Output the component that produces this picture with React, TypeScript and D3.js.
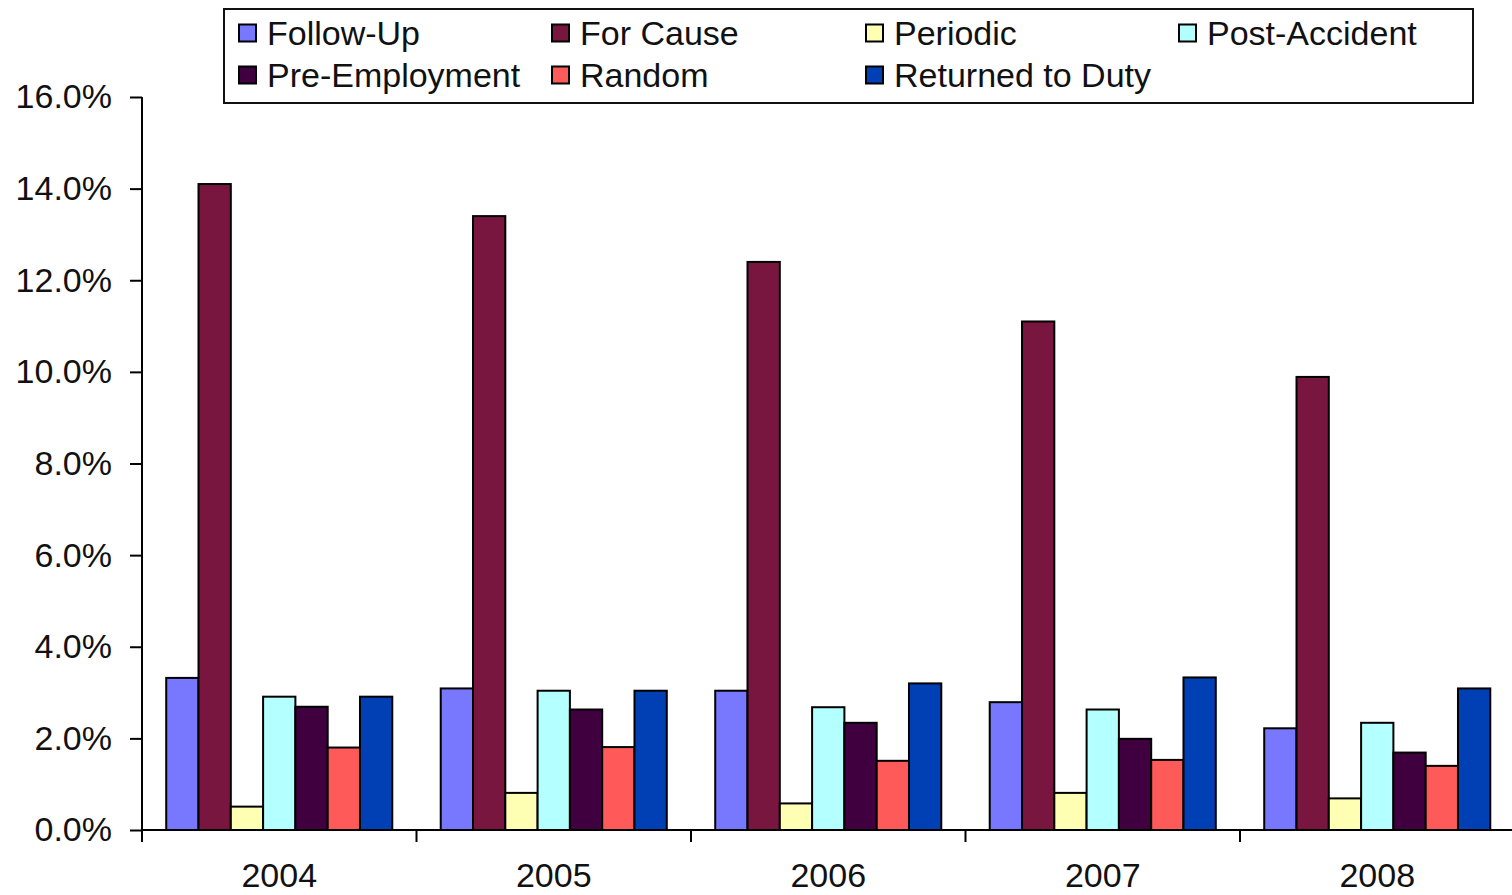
import { useEffect, useRef } from "react";
import * as d3 from "d3";

const years = ["2004", "2005", "2006", "2007", "2008"];
const seriesNames = [
  "Follow-Up",
  "For Cause",
  "Periodic",
  "Post-Accident",
  "Pre-Employment",
  "Random",
  "Returned to Duty",
];
const seriesColors = ["#7878FF", "#78163F", "#FFFFB4", "#B4FFFF", "#400040", "#FF5A5A", "#0040B4"];

// values per series, one entry per year (fractions)
const followUp = [0.0332, 0.0309, 0.0304, 0.0279, 0.0222];
const forCause = [0.141, 0.134, 0.124, 0.111, 0.0989];
const periodic = [0.0051, 0.0081, 0.0058, 0.0081, 0.0069];
const postAccident = [0.0291, 0.0304, 0.0268, 0.0263, 0.0234];
const preEmployment = [0.0269, 0.0263, 0.0234, 0.0199, 0.0169];
const random = [0.018, 0.0181, 0.0151, 0.0153, 0.014];
const returnedToDuty = [0.0291, 0.0304, 0.032, 0.0333, 0.0309];

const yTicks = [0, 0.02, 0.04, 0.06, 0.08, 0.1, 0.12, 0.14, 0.16];

const W = 1512;
const H = 895;
const FONT = "'Liberation Sans', Arial, sans-serif";

const App = () => {
  const svgRef = useRef<SVGSVGElement | null>(null);

  useEffect(() => {
    const allValues = [followUp, forCause, periodic, postAccident, preEmployment, random, returnedToDuty];
    const svg = d3.select(svgRef.current);
    svg.selectAll("*").remove();

    const plot = { left: 142, right: 1514.5, top: 97, bottom: 830 };

    const x0 = d3.scaleBand<string>().domain(years).range([plot.left, plot.right]).padding(0);
    const x1 = d3
      .scaleBand<string>()
      .domain(seriesNames)
      .range([0, x0.bandwidth()])
      .paddingInner(0)
      .paddingOuter(0.75);
    const y = d3.scaleLinear().domain([0, 0.16]).range([plot.bottom, plot.top]);

    // bars
    const groups = svg
      .append("g")
      .selectAll("g")
      .data(years)
      .enter()
      .append("g")
      .attr("transform", (d) => `translate(${x0(d)},0)`);

    groups
      .selectAll("rect")
      .data((_, i) => seriesNames.map((s, k) => ({ s, k, v: allValues[k][i] })))
      .enter()
      .append("rect")
      .attr("x", (d) => x1(d.s)!)
      .attr("y", (d) => y(d.v))
      .attr("width", x1.bandwidth())
      .attr("height", (d) => plot.bottom - y(d.v))
      .attr("fill", (d) => seriesColors[d.k])
      .attr("stroke", "#000")
      .attr("stroke-width", 2);

    // y axis
    const yAxis = svg
      .append("g")
      .attr("transform", `translate(${plot.left},0)`)
      .call(
        d3
          .axisLeft(y)
          .tickValues(yTicks)
          .tickSize(12)
          .tickPadding(18)
          .tickFormat((d) => d3.format(".1%")(d as number))
      );
    yAxis.select(".domain").attr("stroke", "#000").attr("stroke-width", 2).attr("d", `M0,${plot.top}V${plot.bottom}`);
    yAxis.selectAll(".tick line").attr("stroke", "#000").attr("stroke-width", 2);
    yAxis
      .selectAll(".tick text")
      .attr("font-family", FONT)
      .attr("font-size", 34)
      .attr("fill", "#111");

    // x axis
    const xAxis = svg
      .append("g")
      .attr("transform", `translate(0,${plot.bottom})`)
      .call(d3.axisBottom(x0).tickSize(0).tickPadding(33));
    xAxis.select(".domain").attr("stroke", "#000").attr("stroke-width", 2).attr("d", `M${plot.left},0H${W}`);
    xAxis
      .selectAll(".tick text")
      .attr("font-family", FONT)
      .attr("font-size", 34)
      .attr("fill", "#111");
    // category separator ticks
    xAxis
      .append("g")
      .selectAll("line")
      .data(years.concat(["end"]))
      .enter()
      .append("line")
      .attr("x1", (d, i) => (i < years.length ? x0(d)! : x0(years[years.length - 1])! + x0.bandwidth()))
      .attr("x2", (d, i) => (i < years.length ? x0(d)! : x0(years[years.length - 1])! + x0.bandwidth()))
      .attr("y1", 0)
      .attr("y2", 12)
      .attr("stroke", "#000")
      .attr("stroke-width", 2);

    // legend
    const legend = svg.append("g");
    legend
      .append("rect")
      .attr("x", 224)
      .attr("y", 9)
      .attr("width", 1249)
      .attr("height", 94)
      .attr("fill", "#fff")
      .attr("stroke", "#111")
      .attr("stroke-width", 2);
    const colX = [239, 552, 866, 1179];
    const rowY = [33, 75];
    const items = legend
      .selectAll("g.item")
      .data(seriesNames)
      .enter()
      .append("g")
      .attr("class", "item")
      .attr("transform", (_, i) => `translate(${colX[i % 4]},${rowY[Math.floor(i / 4)]})`);
    items
      .append("rect")
      .attr("x", 0)
      .attr("y", -8.5)
      .attr("width", 17)
      .attr("height", 17)
      .attr("fill", (_, i) => seriesColors[i])
      .attr("stroke", "#000")
      .attr("stroke-width", 2);
    items
      .append("text")
      .attr("x", 28)
      .attr("y", 0)
      .attr("dy", "0.36em")
      .attr("font-family", FONT)
      .attr("font-size", 34)
      .attr("fill", "#111")
      .text((d) => d);
  }, []);

  return (
    <svg
      ref={svgRef}
      width={W}
      height={H}
      style={{ position: "absolute", left: 0, top: 0, background: "#fff", display: "block" }}
    />
  );
};

export default App;
